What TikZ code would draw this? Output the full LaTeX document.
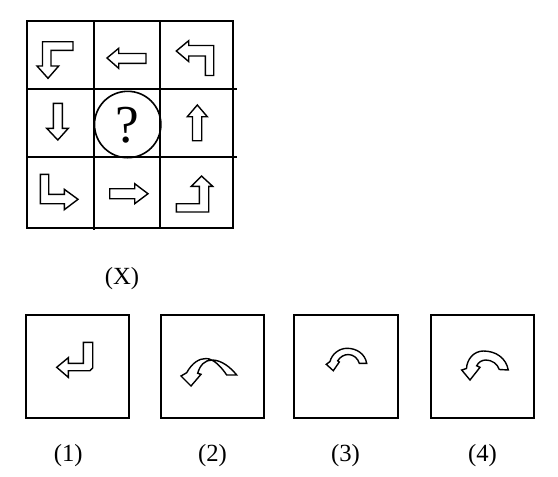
\documentclass[tikz,border=0pt]{standalone}
\usepackage{fontspec}
\setmainfont{Liberation Serif}
\begin{document}
\begin{tikzpicture}[x=0.75pt,y=-0.75pt,
  gridline/.style={line width=1.5pt},
  optbox/.style={line width=1.5pt},
  arr/.style={draw,line width=1.05pt,line join=miter},
  lbl/.style={anchor=base,inner sep=0pt,font=\fontsize{18.5}{21}\selectfont}]
\useasboundingbox (0,0) rectangle (558,476);
% grid
\draw[gridline] (26.7,20.7) rectangle (233.3,228);
\draw[gridline] (94.3,20.7) -- (94.3,229.5);
\draw[gridline] (160,20.7) -- (160,228);
\draw[gridline] (26.7,89.3) -- (236.7,89.3);
\draw[gridline] (26.7,157.3) -- (236.7,157.3);
\draw[line width=1.2pt] (127.7,124.5) circle[radius=33.2];
\node[inner sep=0pt,font=\fontsize{40}{42}\selectfont] (q) at (127.7,125.5) {?};
% row 1
\path[arr] (73,41.7) -- (42.5,41.7) -- (42.5,66) -- (37,66) -- (48,78.3) -- (58.7,66) -- (51,66) -- (51,50.3) -- (73,50.3) -- cycle;
\path[arr] (107,58) -- (118.7,48.3) -- (118.7,53.5) -- (146,53.5) -- (146,63.3) -- (118.7,63.3) -- (118.7,68.3) -- cycle;
\path[arr] (176.3,51) -- (188.7,40.7) -- (188.7,45.5) -- (213.7,45.5) -- (213.7,75.5) -- (205.3,75.5) -- (205.3,56) -- (188.7,56) -- (188.7,61.5) -- cycle;
% row 2
\path[arr] (53.3,103.3) -- (62.3,103.3) -- (62.3,128.3) -- (68.3,128.3) -- (57.8,140) -- (46.7,128.3) -- (53.3,128.3) -- cycle;
\path[arr] (197.3,105) -- (207.3,116.7) -- (201.7,116.7) -- (201.7,140.7) -- (192.5,140.7) -- (192.5,116.7) -- (187.3,116.7) -- cycle;
% row 3
\path[arr] (40.3,174.3) -- (48.7,174.3) -- (48.7,194.3) -- (64.3,194.3) -- (64.3,189.3) -- (78,199.3) -- (64.3,209.7) -- (64.3,203.7) -- (40.3,203.7) -- cycle;
\path[arr] (109.7,188.7) -- (134.7,188.7) -- (134.7,183.7) -- (148,193.7) -- (134.7,203.7) -- (134.7,198.7) -- (109.7,198.7) -- cycle;
\path[arr] (176.3,212) -- (176.3,203.7) -- (199.3,203.7) -- (199.3,186.3) -- (191.3,186.3) -- (201.5,176) -- (212.7,186.3) -- (208.7,186.3) -- (208.7,212) -- cycle;
% label X
\node[lbl] (lx) at (122,284.3) {(X)};
% option boxes
\draw[optbox] (26,315) rectangle (129.3,417.7);
\draw[optbox] (160.7,315) rectangle (264,417.7);
\draw[optbox] (294.3,315) rectangle (397.7,417.7);
\draw[optbox] (430.7,315) rectangle (534,417.7);
% option 1
\path[arr] (83.3,342.3) -- (92.7,342.3) -- (92.7,368) -- (90,370.7) -- (68.3,370.7) -- (68.3,377.3) -- (56.7,367.3) -- (68.3,357.7) -- (68.3,363.3) -- (83.3,363.3) -- cycle;
% option 2
\path[arr] (186.7,372.7) .. controls (192,363) and (199,358.5) .. (206,358.5) .. controls (214,358.5) and (222,368) .. (226.7,375) -- (236.7,375) .. controls (231,368) and (222,360) .. (212,360) .. controls (205,360) and (200,365) .. (197.7,373.3) -- (201,374.3) -- (191,386) -- (181,376) -- cycle;
% option 3
\path[arr] (366.7,363.3) .. controls (365,354) and (357,348.3) .. (347,348.3) .. controls (339,348.3) and (332,354) .. (330,361.5) -- (326.3,364.3) -- (333.3,370.7) -- (339.3,362) -- (337.7,360.8) .. controls (340,357) and (344,354.5) .. (348.3,354.5) .. controls (353.5,354.5) and (358,358.5) .. (359.3,363.3) -- cycle;
% option 4
\path[arr] (508.3,370) .. controls (506,358) and (496,351) .. (483.3,351) .. controls (474,351) and (467,359) .. (466.5,368.5) -- (461.7,370) -- (470,380) -- (480,367.3) -- (476.7,365.8) .. controls (478.5,362) and (482,360) .. (486,360) .. controls (492,360) and (497.5,364) .. (499.3,369.5) -- cycle;
% labels
\node[lbl] (l1) at (68.3,461.7) {(1)};
\node[lbl] (l2) at (212.5,461.7) {(2)};
\node[lbl] (l3) at (345.5,461.7) {(3)};
\node[lbl] (l4) at (482.5,461.7) {(4)};
\end{tikzpicture}
\end{document}
